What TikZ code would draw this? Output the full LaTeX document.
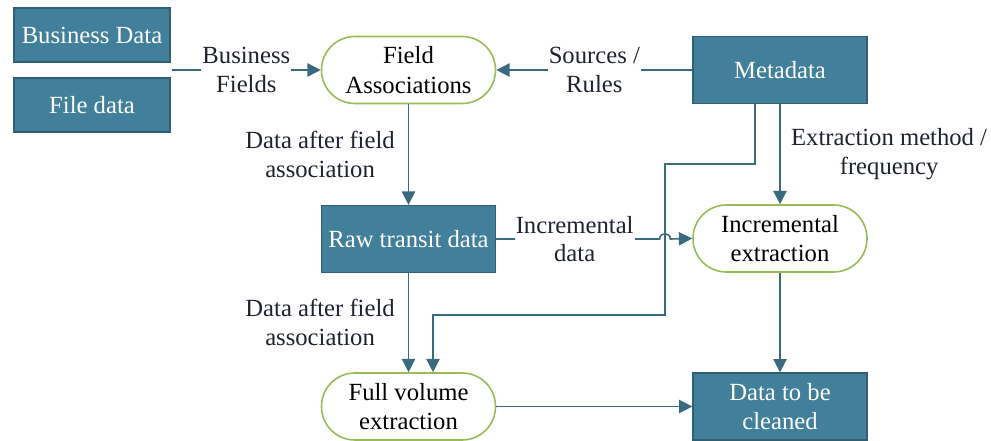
\documentclass[tikz,border=0pt]{standalone}
\usepackage{fontspec}
\setmainfont{Liberation Serif}
\usetikzlibrary{arrows.meta,calc}

\definecolor{boxteal}{RGB}{65,127,154}
\definecolor{boxedge}{RGB}{48,94,115}
\definecolor{termgreen}{RGB}{155,187,89}
\definecolor{linkteal}{RGB}{58,106,128}
\definecolor{labelink}{RGB}{30,35,45}

\tikzset{every picture/.style={line width=0.75pt}}
\tikzset{
  databox/.style={draw=boxedge, fill=boxteal, text=white, line width=1pt,
    minimum width=130.5pt, minimum height=50.25pt, align=center, inner sep=0.75pt,
    font=\fontsize{18.5}{22}\selectfont},
  srcbox/.style={databox, minimum width=117pt, minimum height=40.5pt},
  termbox/.style={draw=termgreen, fill=white, text=black, line width=1.2pt,
    rounded corners=25pt, minimum width=130.5pt, minimum height=50.25pt,
    align=center, inner sep=0.75pt, font=\fontsize{18.5}{22}\selectfont},
  link/.style={draw=linkteal, line width=1.2pt, -{Triangle[length=10pt,width=10pt]}},
  flowlabel/.style={text=labelink, align=center, inner sep=0.75pt,
    font=\fontsize{18.5}{21.5}\selectfont},
}

\begin{document}
\begin{tikzpicture}[x=0.75pt,y=0.75pt,yscale=-1,xscale=1]
\useasboundingbox (0,0) rectangle (991,441);

% Sources
\node [srcbox] (bizdata) at (92,35) {Business Data};
\node [srcbox] (filedata) at (92,105) {File data};

% Process nodes
\node [termbox] (fieldassoc) at (408.5,70) {Field\\Associations};
\node [databox] (metadata) at (780,70) {Metadata};
\node [databox] (rawtransit) at (408.5,239) {Raw transit data};
\node [termbox] (incextract) at (780,238.5) {Incremental\\extraction};
\node [termbox] (fullextract) at (408.5,406.5) {Full volume\\extraction};
\node [databox] (tobecleaned) at (780,406.5) {Data to be\\cleaned};

% Route points
\coordinate (bizjoin) at (172,70);
\coordinate (crossx) at (665,315);
\coordinate (hop) at (crossx |- rawtransit.east);

% Metadata to full volume extraction
\draw [link] ($(metadata.south)+(-25,0)$) -- ++(0,60) -| (crossx) -| ($(fullextract.north)+(24.5,0)$);

% Top row
\draw [link] (bizjoin) -- node [flowlabel, fill=white] (lblbiz) {Business\\Fields} (fieldassoc.west);
\draw [link] (metadata.west) -- node [flowlabel, fill=white] (lblsrc) {Sources /\\Rules} (fieldassoc.east);

% Verticals
\draw [link] (fieldassoc) -- node [flowlabel, left=9pt] (lblfield) {Data after field\\association} (rawtransit);
\draw [link] (metadata) -- node [flowlabel, right=7pt] (lblmeth) {Extraction method /\\frequency} (incextract);
\draw [link] (rawtransit) -- node [flowlabel, left=9pt] (lblraw) {Data after field\\association} (fullextract);
\draw [link] (incextract) -- (tobecleaned);

% Incremental data, hopping over the metadata line
\draw [link] (rawtransit.east) -- node [flowlabel, fill=white, pos=0.48] (lblinc) {Incremental\\data} ([xshift=-4pt]hop) .. controls +(0,-7) and +(0,-7) .. ([xshift=4pt]hop) -- (incextract.west);

% Bottom row
\draw [link] (fullextract) -- (tobecleaned);

\end{tikzpicture}
\end{document}
